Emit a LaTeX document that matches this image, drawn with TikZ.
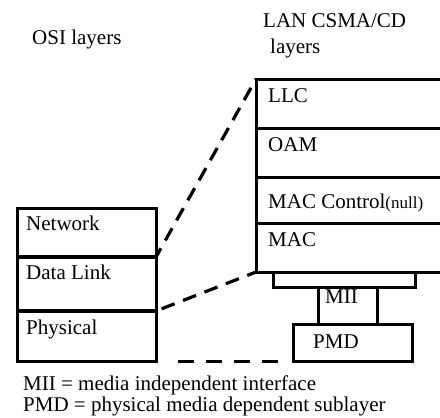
\documentclass[tikz,border=0pt]{standalone}
\usepackage{fontspec}
\setmainfont{Liberation Serif}
\begin{document}
\begin{tikzpicture}[x=1pt,y=-1pt,
  box/.style={draw, line width=3pt, inner sep=0pt, outer sep=0pt, anchor=north west},
  sepline/.style={line width=4.5pt},
  dashline/.style={line width=3.2pt, dash pattern=on 14pt off 9pt},
  lbl/.style={anchor=base west, inner sep=0pt, font=\fontsize{21}{23}\selectfont}]
\useasboundingbox (0,0) rectangle (440,418);
\clip (0,0) rectangle (440,418);
% OSI stack
\node[box, minimum width=139pt, minimum height=49pt] (net) at (17,208) {};
\node[box, minimum width=139pt, minimum height=54pt] (dl) at (17,257) {};
\node[box, minimum width=139pt, minimum height=50pt] (phy) at (17,311) {};
\draw[sepline] (net.south west) -- (net.south east);
\draw[sepline] (dl.south west) -- (dl.south east);
% LAN stack
\node[box, minimum width=200pt, minimum height=49pt] (llc) at (256,79) {};
\node[box, minimum width=200pt, minimum height=49pt] (oam) at (256,128) {};
\node[box, minimum width=200pt, minimum height=46pt] (macc) at (256,177) {};
\node[box, minimum width=200pt, minimum height=49pt] (mac) at (256,223) {};
\node[box, minimum width=142pt, minimum height=15pt] (bar) at (273,272) {};
\node[box, minimum width=59pt, minimum height=37pt] (mii) at (318,287) {};
\node[box, minimum width=119pt, minimum height=37pt] (pmd) at (293,324) {};
% dashed connectors
\draw[dashline, dash phase=4pt] (net.south east) -- (llc.north west);
\draw[dashline, dash phase=-6pt] (dl.south east) -- (mac.south west);
\coordinate (bend) at (280,361);
\draw[line width=3pt, dash pattern=on 0pt off 22pt on 16pt off 12pt on 16pt off 12pt on 16pt off 12pt on 16pt off 30pt] (phy.south east) -- (bend);
% texts
\node[lbl] (tosi) at (32,44) {OSI layers};
\node[lbl] (tlan) at (263,27) {LAN CSMA/CD};
\node[lbl] (tlay) at (270,53) {layers};
\node[lbl] (tnet) at (26,230) {Network};
\node[lbl] (tdl) at (26,279) {Data Link};
\node[lbl] (tphy) at (26,334) {Physical};
\node[lbl] (tllc) at (268,102) {LLC};
\node[lbl] (toam) at (268,151) {OAM};
\node[lbl] (tmacc) at (268,208) {MAC Control{\fontsize{17}{19}\selectfont(null)}};
\node[lbl] (tmac) at (268,246) {MAC};
\node[lbl] (tmii) at (325,303) {MII};
\node[lbl] (tpmd) at (313,348) {PMD};
\node[lbl] (leg1) at (23,390) {MII = media independent interface};
\node[lbl] (leg2) at (23,411) {PMD = physical media dependent sublayer};
\end{tikzpicture}
\end{document}
